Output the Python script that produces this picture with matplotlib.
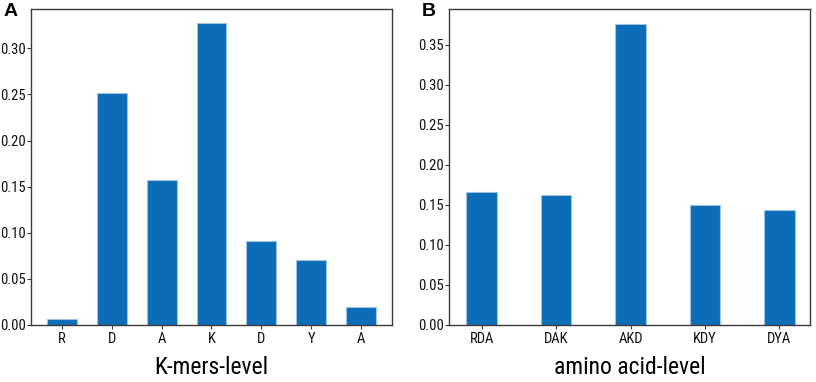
import matplotlib
matplotlib.use('Agg')
import matplotlib.pyplot as plt

kmer_labels = ['R', 'D', 'A', 'K', 'D', 'Y', 'A']
kmer_values = [0.0065, 0.251, 0.157, 0.327, 0.091, 0.070, 0.019]

aa_labels = ['RDA', 'DAK', 'AKD', 'KDY', 'DYA']
aa_values = [0.1667, 0.1625, 0.376, 0.150, 0.143]

plt.rcParams['font.family'] = ['Roboto Condensed', 'DejaVu Sans']

bar_color = '#0b6cb8'
edge_color = '#9cc3e6'
spine_color = '#3a3a3a'

fig = plt.figure(figsize=(8.16, 3.82), dpi=100)
ax1 = fig.add_axes([31 / 816, 57 / 382, 361 / 816, 316 / 382])
ax2 = fig.add_axes([449 / 816, 57 / 382, 361 / 816, 316 / 382])


def style(ax):
    for s in ax.spines.values():
        s.set_color(spine_color)
        s.set_linewidth(1.0)
    ax.tick_params(direction='out', length=3, width=0.8, color=spine_color,
                   labelsize=10.5, labelcolor='#111111')
    ax.tick_params(axis='y', pad=0.5)
    ax.tick_params(axis='x', pad=2)


ax1.bar(range(len(kmer_values)), kmer_values, width=0.6, color=bar_color,
        edgecolor=edge_color, linewidth=0.8)
ax1.set_xticks(range(len(kmer_labels)))
ax1.set_xticklabels(kmer_labels)
ax1.set_xlim(-0.62, 6.62)
ax1.set_ylim(0, 0.3426)
ax1.set_yticks([0, 0.05, 0.10, 0.15, 0.20, 0.25, 0.30])
ax1.set_yticklabels(['0.00', '0.05', '0.10', '0.15', '0.20', '0.25', '0.30'])
ax1.set_xlabel('K-mers-level', fontsize=17, labelpad=7)
style(ax1)

ax2.bar(range(len(aa_values)), aa_values, width=0.41, color=bar_color,
        edgecolor=edge_color, linewidth=0.8)
ax2.set_xticks(range(len(aa_labels)))
ax2.set_xticklabels(aa_labels)
ax2.set_xlim(-0.44, 4.41)
ax2.set_ylim(0, 0.3946)
ax2.set_yticks([0, 0.05, 0.10, 0.15, 0.20, 0.25, 0.30, 0.35])
ax2.set_yticklabels(['0.00', '0.05', '0.10', '0.15', '0.20', '0.25', '0.30', '0.35'])
ax2.set_xlabel('amino acid-level', fontsize=17, labelpad=7)
style(ax2)

fig.text(4 / 816, 1 - 3 / 382, 'A', fontsize=14, fontweight='bold',
         family='Liberation Sans', va='top', ha='left')
fig.text(422 / 816, 1 - 3 / 382, 'B', fontsize=14, fontweight='bold',
         family='Liberation Sans', va='top', ha='left')

fig.savefig('out.png', dpi=100)
